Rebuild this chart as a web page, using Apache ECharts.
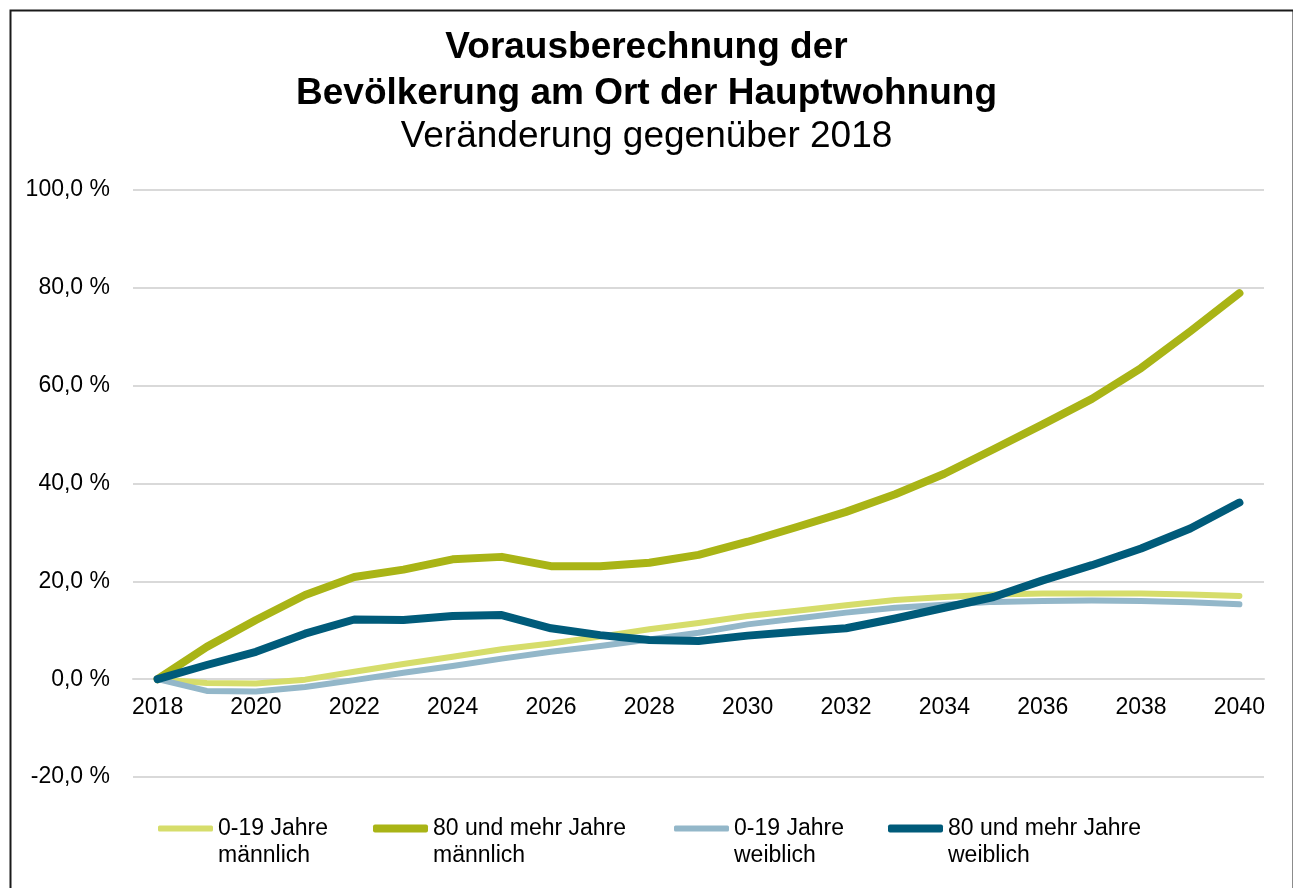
<!DOCTYPE html>
<html>
<head>
<meta charset="utf-8">
<script src="https://cdn.jsdelivr.net/npm/echarts@6/dist/echarts.min.js"></script>
<style>
  html, body { margin: 0; padding: 0; background: #fff; }
  #chart { width: 1293px; height: 888px; }
</style>
</head>
<body>
<div id="chart"></div>
<script>
  // Jahre der Vorausberechnung
  var years = ['2018', '2019', '2020', '2021', '2022', '2023', '2024', '2025', '2026', '2027', '2028',
    '2029', '2030', '2031', '2032', '2033', '2034', '2035', '2036', '2037', '2038', '2039', '2040']

  // Veränderung gegenüber 2018 in %
  var maennlich019 = [0, -0.8, -0.9, -0.1, 1.5, 3.1, 4.6, 6.1, 7.3, 8.7, 10.2, 11.5, 12.9, 14.0, 15.1, 16.2, 16.8, 17.3, 17.5, 17.5, 17.5, 17.3, 17.0]
  var maennlich80 = [0, 6.6, 12.1, 17.2, 20.9, 22.4, 24.5, 25.0, 23.1, 23.1, 23.8, 25.4, 28.1, 31.1, 34.2, 37.8, 42.0, 47.0, 52.1, 57.3, 63.6, 71.1, 78.9]
  var weiblich019 = [0, -2.4, -2.5, -1.6, -0.2, 1.3, 2.7, 4.2, 5.6, 6.8, 8.1, 9.5, 11.2, 12.4, 13.6, 14.6, 15.2, 15.8, 16.0, 16.1, 16.0, 15.7, 15.3]
  var weiblich80 = [0, 2.9, 5.6, 9.3, 12.2, 12.1, 12.9, 13.1, 10.4, 9.0, 8.0, 7.8, 8.9, 9.7, 10.4, 12.4, 14.6, 16.8, 20.2, 23.3, 26.7, 30.8, 36.1]

  var names = ['0-19 Jahre\nmännlich', '80 und mehr Jahre\nmännlich', '0-19 Jahre\nweiblich', '80 und mehr Jahre\nweiblich']
  var colors = ['#d6dd6b', '#a9b416', '#93b7c9', '#005b7a']
  var widths = [6, 8, 6, 8]
  var values = [maennlich019, maennlich80, weiblich019, weiblich80]
  var legendLeft = [153, 368, 669, 883]

  var font = 'Liberation Sans, Arial, sans-serif'

  var chart = echarts.init(document.getElementById('chart'))

  var option = {
    backgroundColor: '#fff',
    animation: false,
    title: {
      text: 'Vorausberechnung der\nBevölkerung am Ort der Hauptwohnung',
      subtext: 'Veränderung gegenüber 2018',
      left: 'center',
      top: 20,
      itemGap: 0,
      textStyle: {
        fontFamily: font,
        fontWeight: 'bold',
        fontSize: 37,
        lineHeight: 46,
        color: '#000'
      },
      subtextStyle: {
        fontFamily: font,
        fontSize: 37,
        lineHeight: 40,
        color: '#000'
      }
    },
    // eine Legende je Eintrag, damit die Abstände wie im Original sind
    legend: names.map(function (n, i) {
      return {
        data: [n],
        left: legendLeft[i],
        top: 783,
        itemWidth: 55,
        itemHeight: widths[i],
        icon: 'roundRect',
        selectedMode: false,
        // leere erste Zeile: Linie steht dann auf Höhe der ersten Textzeile
        formatter: function (name) {
          return '\n' + name
        },
        textStyle: {
          fontFamily: font,
          fontSize: 23,
          lineHeight: 27,
          color: '#000'
        }
      }
    }),
    grid: {
      left: 133,
      right: 29,
      top: 190,
      bottom: 111
    },
    xAxis: {
      type: 'category',
      data: years,
      boundaryGap: true,
      // Achse auf die 0-Linie schieben (587px Höhe, 120 Einheiten -> 20 Einheiten = 97.8px)
      offset: -97.8,
      axisLine: { onZero: false, lineStyle: { color: '#d9d9d9', width: 2 } },
      axisTick: { show: false },
      axisLabel: {
        interval: 1,
        margin: 17,
        fontFamily: font,
        fontSize: 23,
        color: '#000'
      }
    },
    yAxis: {
      type: 'value',
      min: -20,
      max: 100,
      interval: 20,
      axisLine: { show: false },
      axisTick: { show: false },
      splitLine: { lineStyle: { color: '#d9d9d9', width: 2 } },
      axisLabel: {
        margin: 23,
        fontFamily: font,
        fontSize: 23,
        color: '#000',
        formatter: function (v) {
          return v.toFixed(1).replace('.', ',') + ' %'
        }
      }
    },
    series: names.map(function (n, i) {
      return {
        name: n,
        type: 'line',
        data: values[i],
        showSymbol: false,
        symbol: 'none',
        color: colors[i],
        lineStyle: { width: widths[i], color: colors[i], cap: 'round', join: 'round' }
      }
    }),
    graphic: [{
      type: 'rect',
      left: 8,
      top: 8,
      shape: { width: 1283, height: 900 },
      style: { fill: null, stroke: '#1a1a1a', lineWidth: 2 },
      silent: true
    }]
  }

  chart.setOption(option)
</script>
</body>
</html>
